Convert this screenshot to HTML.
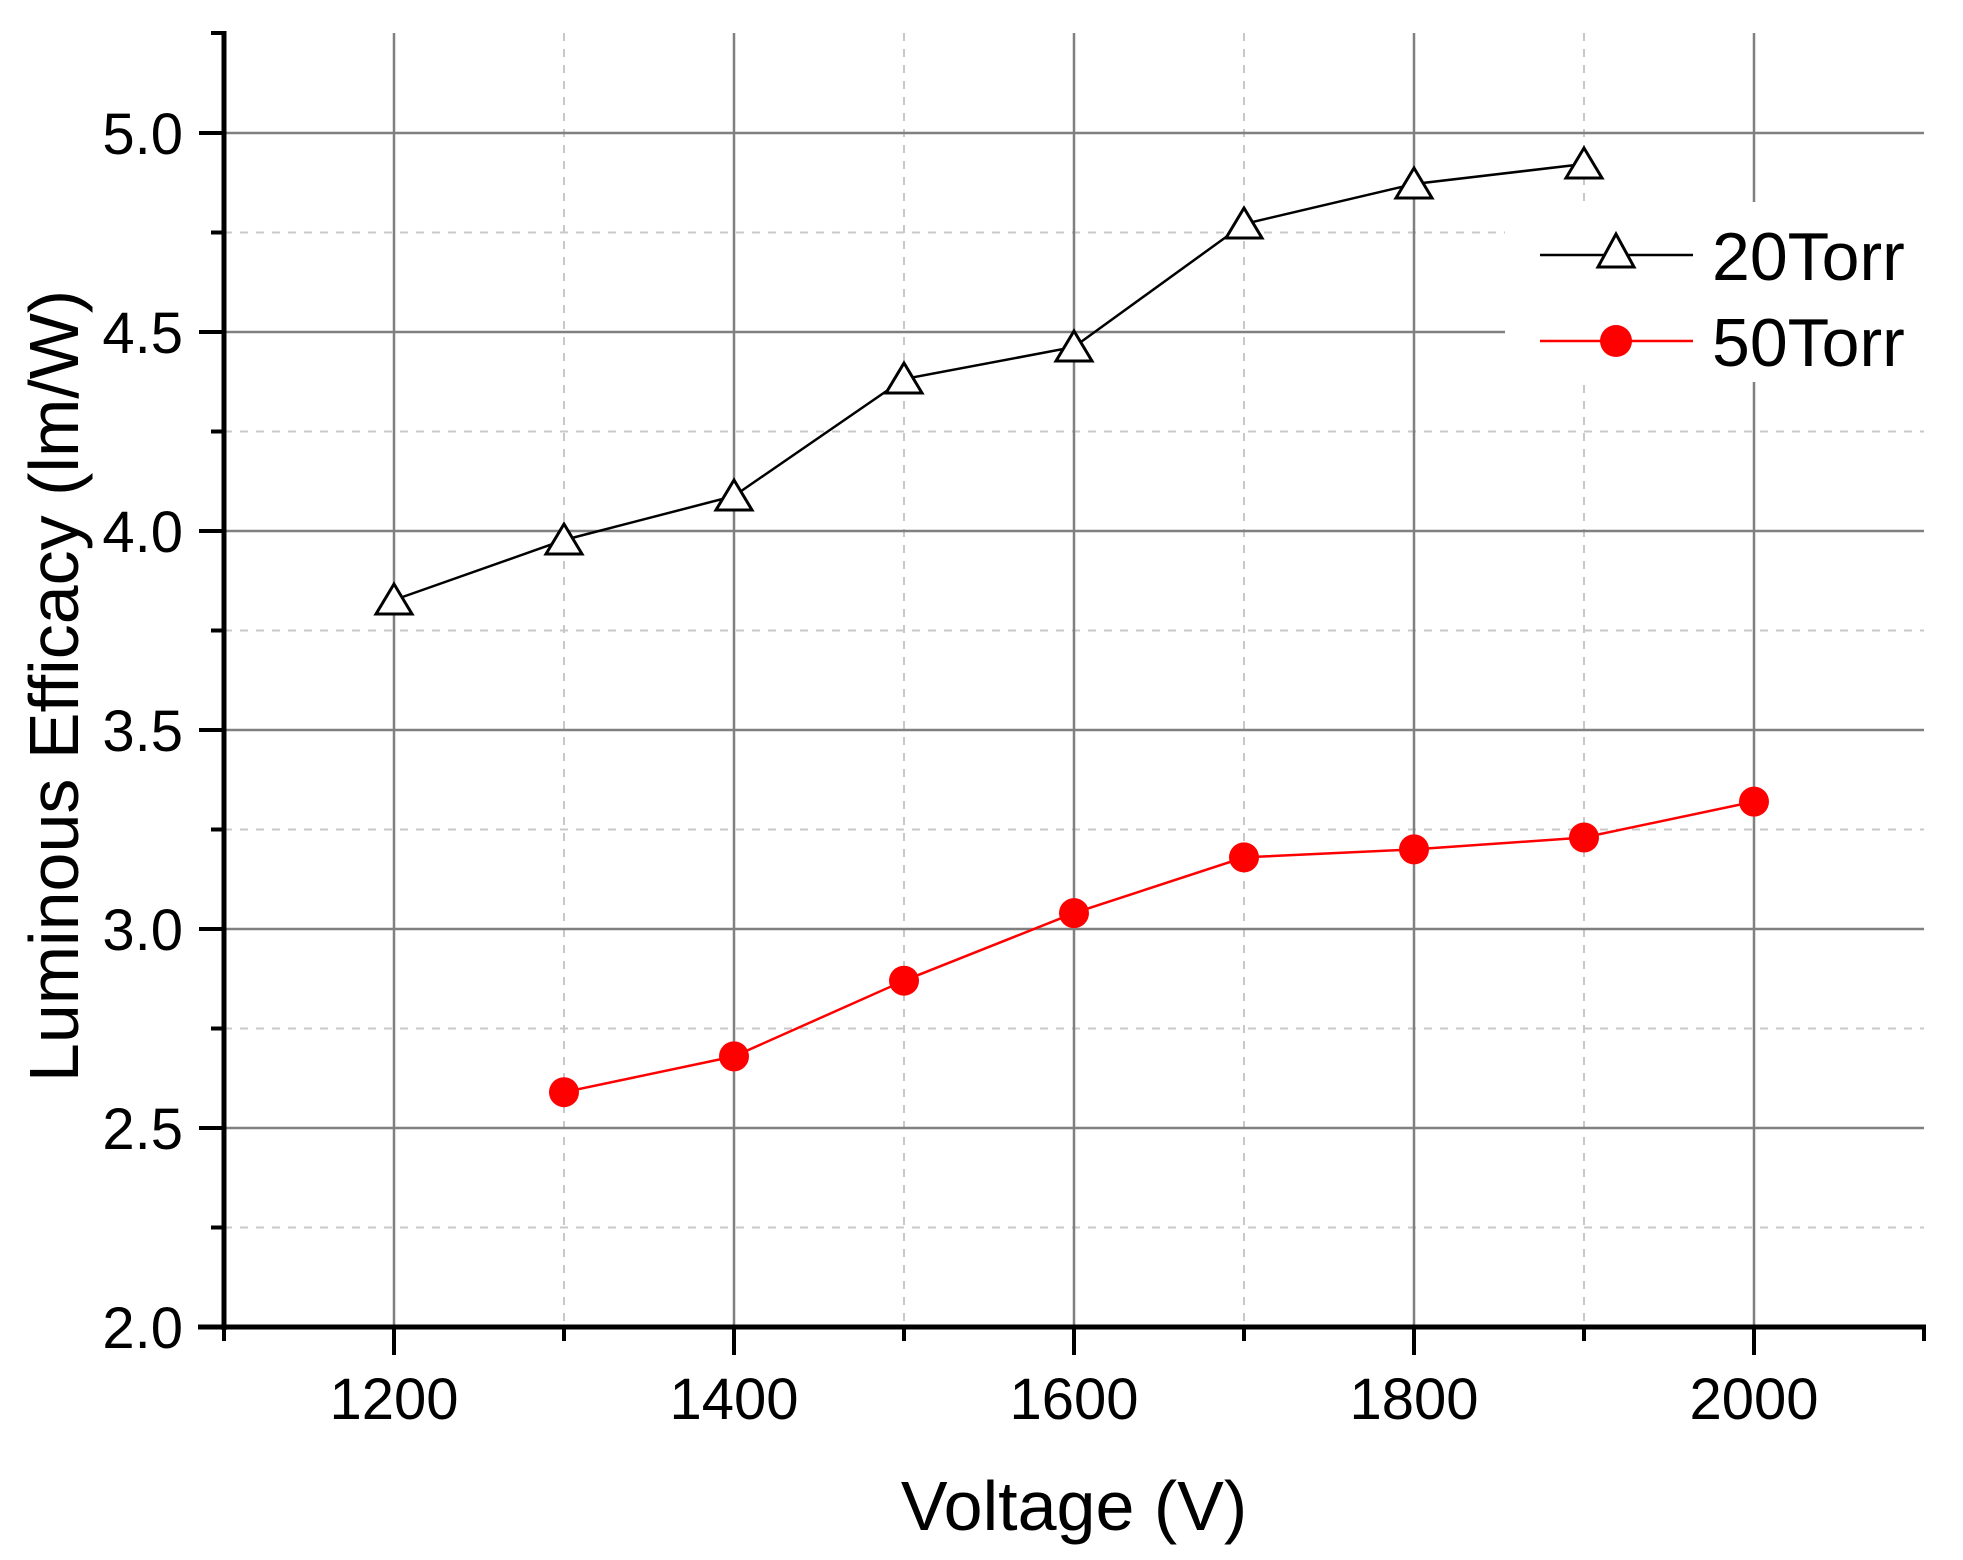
<!DOCTYPE html>
<html><head><meta charset="utf-8"><style>html,body{margin:0;padding:0;background:#fff}svg{display:block}</style></head>
<body>
<svg width="1963" height="1560" viewBox="0 0 1963 1560" xmlns="http://www.w3.org/2000/svg" font-family="Liberation Sans, Arial, sans-serif">
<rect width="1963" height="1560" fill="#fff"/>
<g stroke="#c8c8c8" stroke-width="2" stroke-dasharray="8,8" fill="none">
<line x1="564" y1="33" x2="564" y2="1327"/>
<line x1="904" y1="33" x2="904" y2="1327"/>
<line x1="1244" y1="33" x2="1244" y2="1327"/>
<line x1="1584" y1="33" x2="1584" y2="1327"/>
<line x1="224" y1="1227.5" x2="1924" y2="1227.5"/>
<line x1="224" y1="1028.5" x2="1924" y2="1028.5"/>
<line x1="224" y1="829.5" x2="1924" y2="829.5"/>
<line x1="224" y1="630.5" x2="1924" y2="630.5"/>
<line x1="224" y1="431.5" x2="1924" y2="431.5"/>
<line x1="224" y1="232.5" x2="1924" y2="232.5"/>
</g>
<g stroke="#808080" stroke-width="2.5" fill="none">
<line x1="394" y1="33" x2="394" y2="1327"/>
<line x1="734" y1="33" x2="734" y2="1327"/>
<line x1="1074" y1="33" x2="1074" y2="1327"/>
<line x1="1414" y1="33" x2="1414" y2="1327"/>
<line x1="1754" y1="33" x2="1754" y2="1327"/>
<line x1="224" y1="1128" x2="1924" y2="1128"/>
<line x1="224" y1="929" x2="1924" y2="929"/>
<line x1="224" y1="730" x2="1924" y2="730"/>
<line x1="224" y1="531" x2="1924" y2="531"/>
<line x1="224" y1="332" x2="1924" y2="332"/>
<line x1="224" y1="133" x2="1924" y2="133"/>
</g>
<rect x="1505" y="202" width="440" height="180" fill="#fff"/>
<g stroke="#000" fill="none">
<line x1="224" y1="31" x2="224" y2="1330" stroke-width="5"/>
<line x1="198" y1="1327" x2="1926" y2="1327" stroke-width="5"/>
<g stroke-width="4">
<line x1="199" y1="1128" x2="224" y2="1128"/><line x1="199" y1="929" x2="224" y2="929"/><line x1="199" y1="730" x2="224" y2="730"/><line x1="199" y1="531" x2="224" y2="531"/><line x1="199" y1="332" x2="224" y2="332"/><line x1="199" y1="133" x2="224" y2="133"/>
<line x1="211" y1="1227.5" x2="224" y2="1227.5"/><line x1="211" y1="1028.5" x2="224" y2="1028.5"/><line x1="211" y1="829.5" x2="224" y2="829.5"/><line x1="211" y1="630.5" x2="224" y2="630.5"/><line x1="211" y1="431.5" x2="224" y2="431.5"/><line x1="211" y1="232.5" x2="224" y2="232.5"/><line x1="211" y1="33" x2="224" y2="33"/>
<line x1="394" y1="1327" x2="394" y2="1355"/><line x1="734" y1="1327" x2="734" y2="1355"/><line x1="1074" y1="1327" x2="1074" y2="1355"/><line x1="1414" y1="1327" x2="1414" y2="1355"/><line x1="1754" y1="1327" x2="1754" y2="1355"/>
<line x1="224" y1="1327" x2="224" y2="1341"/><line x1="564" y1="1327" x2="564" y2="1341"/><line x1="904" y1="1327" x2="904" y2="1341"/><line x1="1244" y1="1327" x2="1244" y2="1341"/><line x1="1584" y1="1327" x2="1584" y2="1341"/><line x1="1924" y1="1327" x2="1924" y2="1341"/>
</g></g>
<g font-size="58" fill="#000" text-anchor="end">
<text x="183" y="1348">2.0</text><text x="183" y="1149">2.5</text><text x="183" y="950">3.0</text><text x="183" y="751">3.5</text><text x="183" y="552">4.0</text><text x="183" y="353">4.5</text><text x="183" y="154">5.0</text>
</g>
<g font-size="58" fill="#000" text-anchor="middle">
<text x="394" y="1419">1200</text><text x="734" y="1419">1400</text><text x="1074" y="1419">1600</text><text x="1414" y="1419">1800</text><text x="1754" y="1419">2000</text>
</g>
<text x="1074" y="1530" font-size="70" text-anchor="middle">Voltage (V)</text>
<text transform="translate(78,686) rotate(-90)" font-size="70" text-anchor="middle">Luminous Efficacy (lm/W)</text>
<polyline fill="none" stroke="#000" stroke-width="2.5" points="394,600 564,540 734,496 904,379 1074,347 1244,224 1414,184 1584,164"/>
<g fill="#fff" stroke="#000" stroke-width="3">
<path d="M394,584 l-18,30 h36z"/><path d="M564,524 l-18,30 h36z"/><path d="M734,480 l-18,30 h36z"/><path d="M904,363 l-18,30 h36z"/><path d="M1074,331 l-18,30 h36z"/><path d="M1244,208 l-18,30 h36z"/><path d="M1414,168 l-18,30 h36z"/><path d="M1584,148 l-18,30 h36z"/>
</g>
<polyline fill="none" stroke="#f00" stroke-width="2.5" points="564,1092.2 734,1056.4 904,980.7 1074,913.1 1244,857.4 1414,849.4 1584,837.5 1754,801.6"/>
<g fill="#f00">
<circle cx="564" cy="1092.2" r="15"/><circle cx="734" cy="1056.4" r="15"/><circle cx="904" cy="980.7" r="15"/><circle cx="1074" cy="913.1" r="15"/><circle cx="1244" cy="857.4" r="15"/><circle cx="1414" cy="849.4" r="15"/><circle cx="1584" cy="837.5" r="15"/><circle cx="1754" cy="801.6" r="15"/>
</g>
<line x1="1540" y1="255" x2="1693" y2="255" stroke="#000" stroke-width="2.5"/>
<path d="M1616,234 l-18,33 h36z" fill="#fff" stroke="#000" stroke-width="3"/>
<line x1="1540" y1="341" x2="1693" y2="341" stroke="#f00" stroke-width="2.5"/>
<circle cx="1616" cy="341" r="16" fill="#f00"/>
<text x="1712" y="280" font-size="68">20Torr</text>
<text x="1712" y="366" font-size="68">50Torr</text>
</svg>
</body></html>
